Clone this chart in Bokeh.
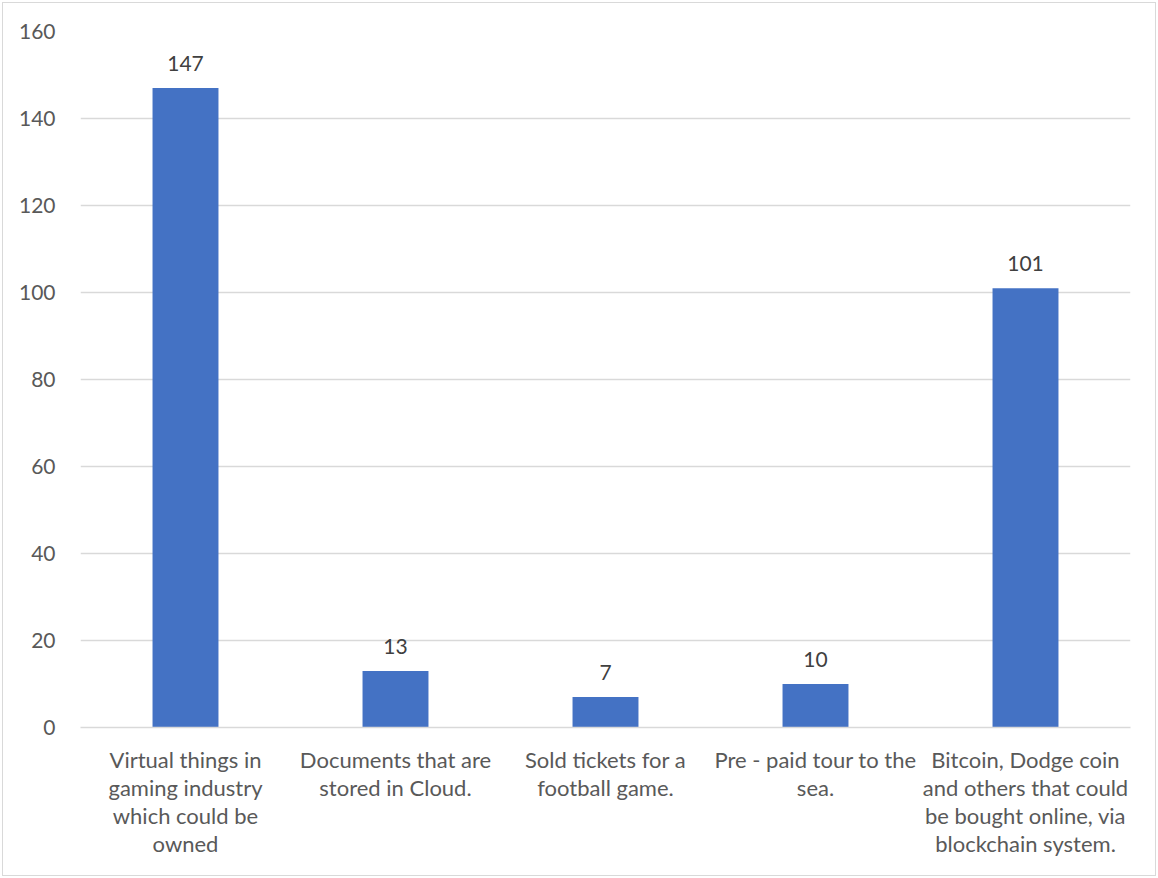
from bokeh.plotting import figure
from bokeh.models import ColumnDataSource, FixedTicker, FactorRange, Range1d
from bokeh.core.properties import value
from bokeh.embed import file_html
from bokeh.resources import INLINE

categories = [
    "Virtual things in\ngaming industry\nwhich could be\nowned",
    "Documents that are\nstored in Cloud.",
    "Sold tickets for a\nfootball game.",
    "Pre - paid tour to the\nsea.",
    "Bitcoin, Dodge coin\nand others that could\nbe bought online, via\nblockchain system.",
]
values = [147, 13, 7, 10, 101]
y_ticks = [0, 20, 40, 60, 80, 100, 120, 140, 160]

FONT = "Lato"
src = ColumnDataSource(dict(cat=categories, val=values, lab=[str(v) for v in values]))

p = figure(width=1152, height=872, x_range=FactorRange(*categories, range_padding=0),
           y_range=Range1d(0, 160), output_backend="svg", toolbar_location=None,
           min_border_left=77, min_border_right=25, min_border_top=28, min_border_bottom=148)
p.outline_line_color = None
p.styles = {"outline": "1.5px solid #d9d9d9", "margin": "3px"}

p.vbar(x="cat", top="val", width=0.314, source=src, fill_color="#4472C4", line_color=None)
p.text(x="cat", y="val", text="lab", source=src, text_align="center", text_baseline="bottom",
       y_offset=-17, text_font_size="21px", text_color="#404040", text_font=value(FONT))

p.xgrid.grid_line_color = None
p.ygrid.grid_line_color = "#d9d9d9"
p.ygrid.grid_line_width = 1.5
p.yaxis.ticker = FixedTicker(ticks=y_ticks)
p.yaxis.axis_line_color = None
p.yaxis.major_tick_line_color = None
p.yaxis.minor_tick_line_color = None
p.yaxis.major_label_text_font = FONT
p.yaxis.major_label_text_font_size = "21px"
p.yaxis.major_label_text_color = "#595959"
p.yaxis.major_label_standoff = 19

p.xaxis.axis_line_color = "#d9d9d9"
p.xaxis.axis_line_width = 1.5
p.xaxis.major_tick_line_color = None
p.xaxis.minor_tick_line_color = None
p.xaxis.major_label_text_font = FONT
p.xaxis.major_label_text_font_size = "22px"
p.xaxis.major_label_text_color = "#595959"
p.xaxis.major_label_standoff = 12
p.xaxis.major_label_text_line_height = 1.04

open("out.html", "w").write(file_html(p, INLINE))
